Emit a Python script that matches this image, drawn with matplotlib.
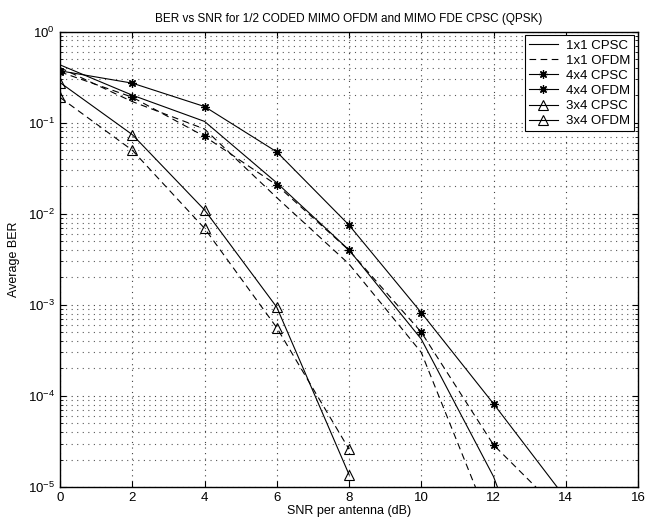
import matplotlib
matplotlib.use('Agg')
import matplotlib.pyplot as plt
from matplotlib.lines import Line2D
from matplotlib.ticker import LogLocator, NullFormatter

plt.rcParams['font.family'] = ['Liberation Sans', 'DejaVu Sans']

# SNR per antenna (dB)
snr = [0, 2, 4, 6, 8, 10, 12, 14]
snr_3x4 = [0, 2, 4, 6, 8]

# average BER
ber_1x1_cpsc = [0.43, 0.20, 0.103, 0.0218, 4.0e-3, 4.2e-4, 1.3e-5, 1e-7]
ber_1x1_ofdm = [0.40, 0.17, 0.085, 0.0150, 2.8e-3, 3.0e-4, 3.2e-6, 1e-8]
ber_4x4_cpsc = [0.37, 0.271, 0.150, 0.0477, 7.5e-3, 8.2e-4, 8.2e-5, 7.5e-6]
ber_4x4_ofdm = [0.36, 0.19, 0.0706, 0.0206, 3.96e-3, 5.0e-4, 2.9e-5, 4.7e-6]
ber_3x4_cpsc = [0.275, 0.0738, 0.011, 9.4e-4, 1.37e-5]
ber_3x4_ofdm = [0.189, 0.0497, 0.0069, 5.6e-4, 2.6e-5]

labels = ['1x1 CPSC', '1x1 OFDM', '4x4 CPSC', '4x4 OFDM', '3x4 CPSC', '3x4 OFDM']

LW = 0.8
DASH = (0, (6, 4))
STAR = (8, 2, 0)
GRID = (0, (1, 4))

fig = plt.figure(figsize=(6.46, 5.19), dpi=100)
ax = fig.add_axes([0.093, 0.0617, 0.8946, 0.8776])

ax.semilogy(snr, ber_1x1_cpsc, color='k', lw=LW, ls='-')
ax.semilogy(snr, ber_1x1_ofdm, color='k', lw=LW, ls=DASH)
ax.semilogy(snr, ber_4x4_cpsc, color='k', lw=LW, ls='-', marker=STAR, ms=6, mew=0.9)
ax.semilogy(snr, ber_4x4_ofdm, color='k', lw=LW, ls=DASH, marker=STAR, ms=6, mew=0.9)
ax.semilogy(snr_3x4, ber_3x4_cpsc, color='k', lw=LW, ls='-', marker='^', ms=7.5,
            mfc='none', mew=0.8)
ax.semilogy(snr_3x4, ber_3x4_ofdm, color='k', lw=LW, ls=DASH, marker='^', ms=7.5,
            mfc='none', mew=0.8)

ax.set_xlim(0, 16)
ax.set_ylim(1e-5, 1)
ax.set_xticks(range(0, 17, 2))
ax.yaxis.set_major_locator(LogLocator(base=10, numticks=10))
ax.yaxis.set_minor_locator(LogLocator(base=10, subs=range(2, 10), numticks=20))
ax.yaxis.set_minor_formatter(NullFormatter())
ax.tick_params(which='both', direction='in', top=True, right=True, labelsize=9.5)
ax.tick_params(which='major', length=4, width=0.8)
ax.tick_params(which='minor', length=2.5, width=0.6)

ax.grid(True, which='major', axis='both', ls=GRID, lw=0.8, color='0.25')
ax.grid(True, which='minor', axis='y', ls=GRID, lw=0.8, color='0.35')
for s in ax.spines.values():
    s.set_linewidth(1.0)

ax.set_title('BER vs SNR for 1/2 CODED MIMO OFDM and MIMO FDE CPSC (QPSK)',
             fontsize=8.5, pad=7)
ax.set_xlabel('SNR per antenna (dB)', fontsize=9, labelpad=1)
ax.set_ylabel('Average BER', fontsize=9, labelpad=6)

# legend drawn as in the reference (marked entries shown with solid lines)
handles = [
    Line2D([], [], color='k', lw=LW, ls='-'),
    Line2D([], [], color='k', lw=LW, ls=DASH),
    Line2D([], [], color='k', lw=LW, ls='-', marker=STAR, ms=6, mew=0.9),
    Line2D([], [], color='k', lw=LW, ls='-', marker=STAR, ms=6, mew=0.9),
    Line2D([], [], color='k', lw=LW, ls='-', marker='^', ms=7.5, mfc='none', mew=0.8),
    Line2D([], [], color='k', lw=LW, ls='-', marker='^', ms=7.5, mfc='none', mew=0.8),
]
leg = ax.legend(handles, labels, loc='upper right', fontsize=9.5, fancybox=False,
                framealpha=1, edgecolor='k', borderaxespad=0.3, handlelength=2.2,
                labelspacing=0.22, borderpad=0.3, handletextpad=0.6)
leg.get_frame().set_linewidth(0.8)

fig.savefig('out.png', dpi=100)
